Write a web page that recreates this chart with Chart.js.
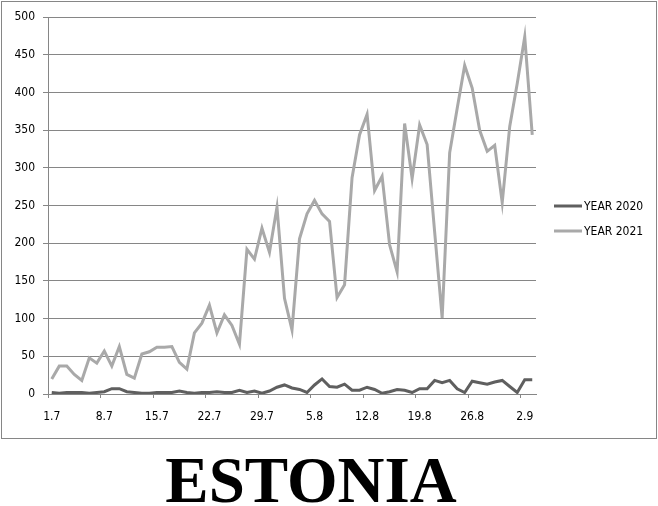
<!DOCTYPE html>
<html>
<head>
<meta charset="utf-8">
<script src="https://cdn.jsdelivr.net/npm/chart.js@4"></script>
<style>
    body { margin: 0; background: #fff; width: 658px; height: 506px; position: relative; overflow: hidden; }
    #box { position: absolute; left: 1px; top: 1px; width: 654px; height: 436px; border: 1px solid #868686; }
    #title {
        position: absolute; left: 0; top: 448px; width: 622px; text-align: center;
        font: bold 65px "Liberation Serif", "Times New Roman", serif; line-height: 65px; color: #000;
    }
</style>
</head>
<body>
<div id="box"><canvas id="estoniaChart" width="654" height="436"></canvas></div>
<div id="title">ESTONIA</div>
<script>
// Days 1.7 - 3.9
const dayLabels = [
    '1.7', '2.7', '3.7', '4.7', '5.7', '6.7', '7.7', '8.7', '9.7', '10.7',
    '11.7', '12.7', '13.7', '14.7', '15.7', '16.7', '17.7', '18.7', '19.7', '20.7',
    '21.7', '22.7', '23.7', '24.7', '25.7', '26.7', '27.7', '28.7', '29.7', '30.7',
    '31.7', '1.8', '2.8', '3.8', '4.8', '5.8', '6.8', '7.8', '8.8', '9.8',
    '10.8', '11.8', '12.8', '13.8', '14.8', '15.8', '16.8', '17.8', '18.8', '19.8',
    '20.8', '21.8', '22.8', '23.8', '24.8', '25.8', '26.8', '27.8', '28.8', '29.8',
    '30.8', '31.8', '1.9', '2.9', '3.9'
];

const year2020 = [
    2, 1, 2, 2, 2, 1, 2, 3, 7, 7,
    3, 2, 1, 1, 2, 2, 2, 4, 2, 1,
    2, 2, 3, 2, 2, 5, 2, 4, 1, 4,
    9, 12, 8, 6, 2, 12, 20, 10, 9, 13,
    5, 5, 9, 6, 1, 3, 6, 5, 2, 7,
    7, 18, 15, 18, 7, 2, 17, 15, 13, 16,
    18, 10, 2, 19, 19
];

const year2021 = [
    20, 37, 37, 26, 18, 48, 41, 57, 37, 63,
    26, 21, 53, 56, 62, 62, 63, 42, 33, 81,
    94, 118, 81, 105, 91, 66, 192, 179, 220, 188,
    248, 127, 85, 206, 239, 257, 239, 229, 128, 145,
    287, 344, 371, 270, 289, 198, 162, 359, 286, 357,
    331, 215, 101, 320, 379, 436, 406, 350, 322, 330,
    254, 355, 412, 474, 344
];

const seriesNames = ['YEAR 2020', 'YEAR 2021'];
const seriesColors = ['#5f5f5f', '#a9a9a9'];
const gridColor = '#868686';
const uiFont = '"DejaVu Sans Condensed", "DejaVu Sans", sans-serif';

// Legend drawn at the right, like the spreadsheet one
const sideLegend = {
    id: 'sideLegend',
    afterDraw(chart) {
        const ctx = chart.ctx;
        ctx.save();
        ctx.font = '12px ' + uiFont;
        ctx.textBaseline = 'middle';
        ctx.fillStyle = '#000';
        chart.data.datasets.forEach((ds, i) => {
            const y = 204 + i * 25;
            ctx.strokeStyle = ds.borderColor;
            ctx.lineWidth = 3;
            ctx.beginPath();
            ctx.moveTo(552, y);
            ctx.lineTo(580, y);
            ctx.stroke();
            ctx.fillText(ds.label, 582, y + 1);
        });
        ctx.restore();
    }
};

function initEstoniaChart() {
    const ctx = document.getElementById('estoniaChart').getContext('2d');

    new Chart(ctx, {
        type: 'line',
        data: {
            labels: dayLabels,
            datasets: [{
                label: seriesNames[0],
                data: year2020,
                borderColor: seriesColors[0],
                backgroundColor: seriesColors[0],
                borderWidth: 3,
                pointRadius: 0,
                tension: 0
            }, {
                label: seriesNames[1],
                data: year2021,
                borderColor: seriesColors[1],
                backgroundColor: seriesColors[1],
                borderWidth: 3,
                pointRadius: 0,
                tension: 0
            }]
        },
        options: {
            responsive: false,
            animation: false,
            layout: {
                padding: { top: 13, right: 120, bottom: 0, left: 0 }
            },
            plugins: {
                legend: { display: false },
                tooltip: { enabled: false }
            },
            scales: {
                x: {
                    offset: true,
                    afterFit: (scale) => { scale.height = 44; },
                    grid: {
                        offset: true,
                        drawOnChartArea: false,
                        tickLength: 4,
                        color: (c) => (c.index % 7 === 0 ? gridColor : 'rgba(0,0,0,0)')
                    },
                    border: { display: true, color: gridColor },
                    ticks: {
                        autoSkip: false,
                        maxRotation: 0,
                        padding: 12,
                        color: '#000',
                        font: { family: uiFont, size: 12 },
                        callback: function (val, index) {
                            return index % 7 === 0 ? this.getLabelForValue(val) : '';
                        }
                    }
                },
                y: {
                    min: 0,
                    max: 500,
                    afterFit: (scale) => { scale.width = 46; },
                    grid: { color: gridColor, tickLength: 5 },
                    border: { display: true, color: gridColor },
                    ticks: {
                        stepSize: 50,
                        padding: 8,
                        color: '#000',
                        font: { family: uiFont, size: 12 }
                    }
                }
            }
        },
        plugins: [sideLegend]
    });
}

document.addEventListener('DOMContentLoaded', () => {
    initEstoniaChart();
});
</script>
</body>
</html>
